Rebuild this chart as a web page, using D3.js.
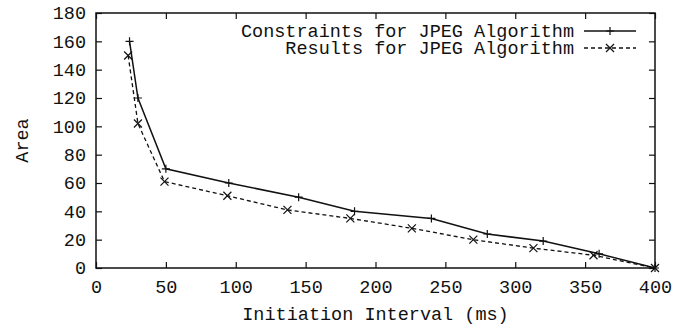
<!DOCTYPE html>
<html>
<head>
<meta charset="utf-8">
<script src="https://cdn.jsdelivr.net/npm/d3@7"></script>
<style>
  html, body { margin: 0; padding: 0; background: #fff; }
  svg text { font-family: "Liberation Mono", "DejaVu Sans Mono", monospace; fill: #111; }
</style>
</head>
<body>
<div id="chart"></div>
<script>
const xTicks = [0, 50, 100, 150, 200, 250, 300, 350, 400]
const yTicks = [0, 20, 40, 60, 80, 100, 120, 140, 160, 180]

const seriesNames = ['Constraints for JPEG Algorithm', 'Results for JPEG Algorithm']

const constraintsX = [24, 30, 50, 95, 145, 185, 240, 280, 320, 360, 400]
const constraintsY = [160, 120, 70, 60, 50, 40, 35, 24, 19, 10, 0]

const resultsX = [23, 30, 49, 94, 137, 182, 226, 270, 313, 356, 400]
const resultsY = [150, 102, 61, 51, 41, 35, 28, 20, 14, 9, 0]

const width = 682
const height = 327
const margin = { top: 13, right: 27, bottom: 59, left: 96 }
const fontSize = 18.5

const svg = d3.select('#chart')
  .append('svg')
  .attr('width', width)
  .attr('height', height)

const x = d3.scaleLinear().domain([0, 400]).range([margin.left, width - margin.right])
const y = d3.scaleLinear().domain([0, 180]).range([height - margin.bottom, margin.top])

const tickLen = 6

// bottom axis: ticks point inward (up)
const xAxis = svg.append('g')
  .attr('transform', `translate(0, ${y(0)})`)
  .call(d3.axisBottom(x).tickValues(xTicks).tickSizeInner(-tickLen).tickSizeOuter(0).tickPadding(12))
xAxis.select('.domain').remove()
xAxis.selectAll('text').attr('font-size', fontSize).attr('dy', '0.71em')

const yAxis = svg.append('g')
  .attr('transform', `translate(${x(0)}, 0)`)
  .call(d3.axisLeft(y).tickValues(yTicks).tickSizeInner(-tickLen).tickSizeOuter(0).tickPadding(10))
yAxis.select('.domain').remove()
yAxis.selectAll('text').attr('font-size', fontSize)

// mirrored ticks on top and right
svg.append('g')
  .attr('transform', `translate(0, ${y(180)})`)
  .call(d3.axisTop(x).tickValues(xTicks).tickSizeInner(-tickLen).tickSizeOuter(0).tickFormat(''))
  .select('.domain').remove()
svg.append('g')
  .attr('transform', `translate(${x(400)}, 0)`)
  .call(d3.axisRight(y).tickValues(yTicks).tickSizeInner(-tickLen).tickSizeOuter(0).tickFormat(''))
  .select('.domain').remove()

svg.selectAll('.tick line').attr('stroke', '#111').attr('stroke-width', 1.2)

// frame
svg.append('rect')
  .attr('x', x(0))
  .attr('y', y(180))
  .attr('width', x(400) - x(0))
  .attr('height', y(0) - y(180))
  .attr('fill', 'none')
  .attr('stroke', '#111')
  .attr('stroke-width', 1.5)

// axis titles
svg.append('text')
  .attr('x', (x(0) + x(400)) / 2)
  .attr('y', 320)
  .attr('text-anchor', 'middle')
  .attr('font-size', fontSize)
  .text('Initiation Interval (ms)')

svg.append('text')
  .attr('transform', `translate(28, ${(y(0) + y(180)) / 2}) rotate(-90)`)
  .attr('text-anchor', 'middle')
  .attr('font-size', fontSize)
  .text('Area')

const constraints = constraintsX.map((v, i) => [v, constraintsY[i]])
const results = resultsX.map((v, i) => [v, resultsY[i]])

const line = d3.line().x(d => x(d[0])).y(d => y(d[1]))

function plus(g, cx, cy) {
  g.append('path')
    .attr('d', `M${cx - 4},${cy}H${cx + 4}M${cx},${cy - 4}V${cy + 4}`)
    .attr('stroke', '#111').attr('stroke-width', 1.2).attr('fill', 'none')
}
function cross(g, cx, cy) {
  g.append('path')
    .attr('d', `M${cx - 4},${cy - 4}L${cx + 4},${cy + 4}M${cx - 4},${cy + 4}L${cx + 4},${cy - 4}`)
    .attr('stroke', '#111').attr('stroke-width', 1.2).attr('fill', 'none')
}

svg.append('path')
  .datum(constraints)
  .attr('fill', 'none')
  .attr('stroke', '#111')
  .attr('stroke-width', 1.5)
  .attr('d', line)

svg.append('path')
  .datum(results)
  .attr('fill', 'none')
  .attr('stroke', '#111')
  .attr('stroke-width', 1.3)
  .attr('stroke-dasharray', '4,3')
  .attr('d', line)

const marks = svg.append('g')
constraints.forEach(d => plus(marks, x(d[0]), y(d[1])))
results.forEach(d => cross(marks, x(d[0]), y(d[1])))

// legend
const legendRight = 574
const legendRows = [31, 48]
seriesNames.forEach((name, i) => {
  const ly = legendRows[i]
  svg.append('text')
    .attr('x', legendRight)
    .attr('y', ly)
    .attr('text-anchor', 'end')
    .attr('dy', '0.35em')
    .attr('font-size', fontSize)
    .text(name)
  svg.append('line')
    .attr('x1', 584).attr('x2', 636)
    .attr('y1', ly).attr('y2', ly)
    .attr('stroke', '#111')
    .attr('stroke-width', i === 0 ? 1.5 : 1.3)
    .attr('stroke-dasharray', i === 0 ? null : '4,3')
  if (i === 0) plus(svg, 610, ly)
  else cross(svg, 610, ly)
})
</script>
</body>
</html>
